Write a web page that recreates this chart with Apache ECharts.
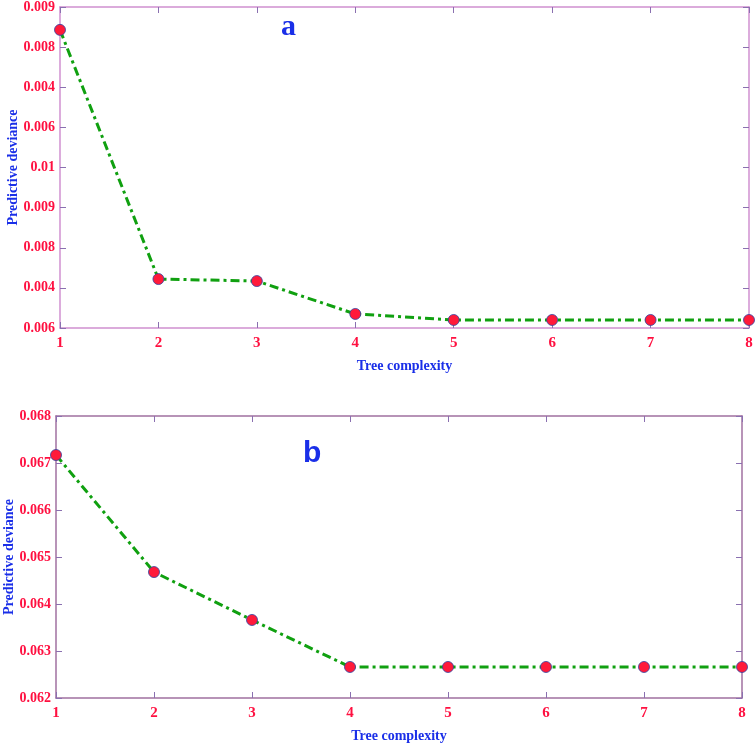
<!DOCTYPE html>
<html><head><meta charset="utf-8">
<script src="https://cdn.jsdelivr.net/npm/echarts@6/dist/echarts.min.js"></script>
<style>html,body{margin:0;padding:0;background:#fff}#c{width:756px;height:748px}</style>
</head><body><div id="c"></div>
<script>
var categories = ['1','2','3','4','5','6','7','8'];
var valuesA = [0.01343, 0.00722, 0.00717, 0.00635, 0.0062, 0.0062, 0.0062, 0.0062];
var valuesB = [0.06717, 0.06468, 0.06366, 0.06266, 0.06266, 0.06266, 0.06266, 0.06266];
// tick labels as printed on the reference (bottom to top)
var tickLabelsA = ['0.006','0.004','0.008','0.009','0.01','0.006','0.004','0.008','0.009'];
var tickLabelsB = ['0.062','0.063','0.064','0.065','0.066','0.067','0.068'];

var chart = echarts.init(document.getElementById('c'), null, {renderer:'canvas'});
var serif = '"Liberation Serif","DejaVu Serif",serif';
var red = '#ff1040', blue = '#1a2fe8';
function frameX(grid, color, show){
  return {type:'category', gridIndex:grid, data:categories, boundaryGap:false,
    position: show ? 'bottom' : 'top',
    axisLine:{show:true, onZero:false, lineStyle:{color:color, width:1.5}},
    axisTick:{show:true, inside:true, length:6, alignWithLabel:true, lineStyle:{color:'#8a70b0'}},
    axisLabel:{show:show, color:red, fontFamily:serif, fontWeight:'bold', fontSize:15, margin:8},
    splitLine:{show:false},
    name: show ? 'Tree complexity' : '', nameLocation:'middle', nameGap:31, nameMoveOverlap:false,
    nameTextStyle:{color:blue, fontFamily:serif, fontWeight:'bold', fontSize:14}};
}
function frameY(grid, color, min, max, interval, labels, show, gap){
  return {type:'value', gridIndex:grid, min:min, max:max, interval:interval,
    position: show ? 'left' : 'right',
    axisLine:{show:true, lineStyle:{color:color, width:1.5}},
    axisTick:{show:true, inside:true, length:6, lineStyle:{color:'#8a70b0'}},
    axisLabel:{show:show, color:red, fontFamily:serif, fontWeight:'bold', fontSize:14, margin:5,
      formatter:function(v){var i=Math.round((v-min)/interval); return labels[i]||'';}},
    splitLine:{show:false},
    name: show ? 'Predictive deviance' : '', nameLocation:'middle', nameGap:gap, nameRotate:90, nameMoveOverlap:false,
    nameTextStyle:{color:blue, fontFamily:serif, fontWeight:'bold', fontSize:14}};
}
var lineStyle = {color:'#10a010', width:3, type:[9,4,3,4]};
var itemStyle = {color:'#ff1a3a', borderColor:'#3040a0', borderWidth:0.8};
chart.setOption({
  animation:false,
  title:[
    {text:'a', left:276, top:7, textStyle:{color:blue, fontFamily:serif, fontWeight:'bold', fontSize:30}},
    {text:'b', left:298, top:434, textStyle:{color:blue, fontFamily:'"Liberation Sans",Arial,sans-serif', fontWeight:'bold', fontSize:30}}
  ],
  grid:[
    {left:60, top:7, right:7, height:321, outerBoundsMode:'none', containLabel:false},
    {left:56, top:416, right:14, height:282, outerBoundsMode:'none', containLabel:false}
  ],
  xAxis:[frameX(0,'#d090d0',true), frameX(0,'#d090d0',false), frameX(1,'#a070a0',true), frameX(1,'#a070a0',false)],
  yAxis:[
    frameY(0,'#d090d0',0.006,0.014,0.001,tickLabelsA,true,40),
    frameY(0,'#d090d0',0.006,0.014,0.001,tickLabelsA,false,0),
    frameY(1,'#a070a0',0.062,0.068,0.001,tickLabelsB,true,40),
    frameY(1,'#a070a0',0.062,0.068,0.001,tickLabelsB,false,0)
  ],
  series:[
    {type:'line', xAxisIndex:0, yAxisIndex:0, data:valuesA, symbol:'circle', symbolSize:11, lineStyle:lineStyle, itemStyle:itemStyle},
    {type:'line', xAxisIndex:2, yAxisIndex:2, data:valuesB, symbol:'circle', symbolSize:11, lineStyle:lineStyle, itemStyle:itemStyle}
  ]
});
</script></body></html>
